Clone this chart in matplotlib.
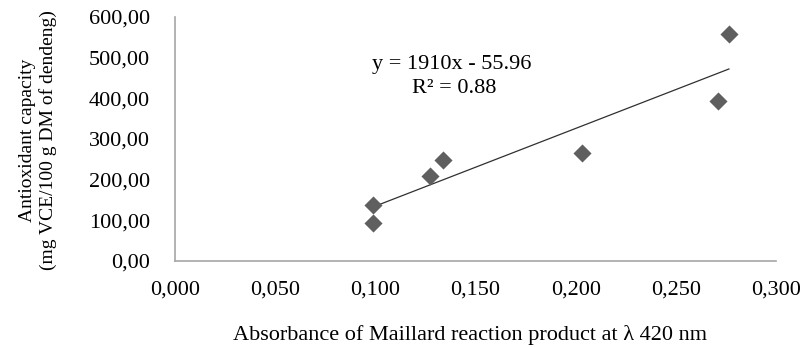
import matplotlib
matplotlib.use("Agg")
import matplotlib.pyplot as plt
import numpy as np

plt.rcParams['font.family'] = ['Liberation Serif', 'DejaVu Serif']

absorbance = [0.099, 0.099, 0.1275, 0.134, 0.203, 0.271, 0.2765]
capacity = [138, 93, 209, 248, 266, 394, 558]
slope, intercept = 1910, -55.96
r2 = 0.88
x_ticks = [0.0, 0.05, 0.1, 0.15, 0.2, 0.25, 0.3]
y_ticks = [0, 100, 200, 300, 400, 500, 600]

fig = plt.figure(figsize=(8.05, 3.47), dpi=100)
ax = fig.add_axes([175/805, 1-261/347, (776-175)/805, (261-17)/347])

ax.scatter(absorbance, capacity, marker='D', s=85, color='#5f5f5f', zorder=3, linewidths=0)
xs = np.array([min(absorbance), max(absorbance)])
ax.plot(xs, slope*xs + intercept, color='#303030', lw=0.9, zorder=2)

ax.set_xlim(0, 0.3)
ax.set_ylim(0, 600)
ax.set_xticks(x_ticks)
ax.set_yticks(y_ticks)
ax.set_xticklabels([f"{v:.3f}".replace('.', ',') for v in x_ticks], fontsize=16)
ax.set_yticklabels([f"{v:.2f}".replace('.', ',') for v in y_ticks], fontsize=16)
ax.tick_params(axis='y', length=0, pad=18)
ax.tick_params(axis='x', length=0, pad=14)
for s in ['top', 'right']:
    ax.spines[s].set_visible(False)
for s in ['left', 'bottom']:
    ax.spines[s].set_color('#a6a6a6')
    ax.spines[s].set_linewidth(1.2)

ax.text(0.0985, 482, f"y = {slope}x - {abs(intercept):.2f}", fontsize=16, ha='left', va='center')
ax.text(0.1185, 425, f"R² = {r2:.2f}", fontsize=16, ha='left', va='center')

fig.text(470/805, 1-335/347, "Absorbance of Maillard reaction product at λ 420 nm",
         fontsize=16, ha='center', va='center')
fig.text(38/805, 1-140/347, "Antioxidant capacity\n(mg VCE/100 g DM of dendeng)", rotation=90,
         ha='center', va='center', fontsize=14, linespacing=1.15)

fig.savefig("out.png", dpi=100)
